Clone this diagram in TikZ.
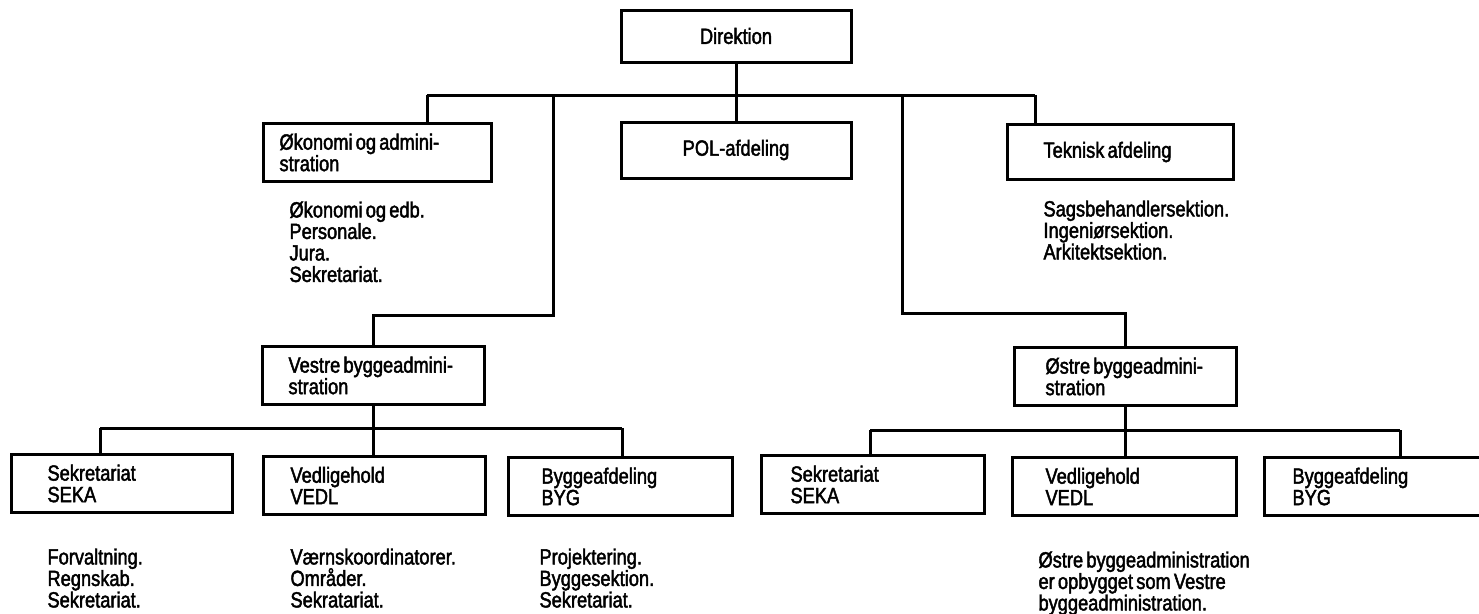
\documentclass[tikz,border=0pt]{standalone}
\usepackage{fontspec}
\setmainfont{Liberation Sans}[FakeStretch=0.83, FakeBold=2.0]
\usetikzlibrary{calc}
% text settings for boxes and lists
\newcommand\orgfont{\fontsize{22}{21.5}\selectfont\spaceskip=3.2pt plus 1pt minus 0.5pt\relax}
\newcommand\notefont{\fontsize{22}{18.5}\selectfont\spaceskip=3.2pt plus 1pt minus 0.5pt\relax}
% one line of box text: box width, left indent, text
\newcommand\bl[3]{\makebox[#1pt][l]{\hspace*{#2pt}#3}}
\begin{document}
\begin{tikzpicture}[x=1pt, y=-1pt,
  line width=3pt,
  txt/.style={font=\orgfont},
  orgbox/.style={draw, line width=3pt, anchor=north west, txt,
    minimum width=#1pt, inner xsep=0pt, align=left, minimum height=58pt},
  ctrbox/.style={draw, line width=3pt, anchor=center, txt,
    minimum width=#1pt, align=center},
  list/.style={anchor=north west, inner sep=0pt, align=left, txt},
  note/.style={anchor=north west, inner sep=0pt, align=left, font=\notefont},
  conn/.style={line width=3pt}]
\useasboundingbox (0,0) rectangle (1479,613);
\clip (0,0) rectangle (1479,613);

% top level
\node[ctrbox=230, minimum height=52pt] (dir) at (736,36) {Direktion};
\node[ctrbox=230, minimum height=56pt] (pol) at (736,150) {POL-afdeling};
\node[orgbox=228, minimum height=58pt] (oek) at (262,122)
  {\bl{228}{16}{Økonomi og admini-}\\\bl{228}{16}{stration}};
\node[orgbox=226, minimum height=55pt] (tek) at (1006,123)
  {\bl{226}{36}{Teknisk afdeling}};

\node[list] (oeklist) at (288,200) {Økonomi og edb.\\Personale.\\Jura.\\Sekretariat.};
\node[list] (teklist) at (1042,199) {Sagsbehandlersektion.\\Ingeniørsektion.\\Arkitektsektion.};

% building administrations
\node[orgbox=222] (vestre) at (261,345)
  {\bl{222}{26}{Vestre byggeadmini-}\\\bl{222}{26}{stration}};
\node[orgbox=222] (oestre) at (1013,346)
  {\bl{222}{31}{Østre byggeadmini-}\\\bl{222}{31}{stration}};

% sections, west
\node[orgbox=221] (sekL) at (10,453) {\bl{221}{36}{Sekretariat}\\\bl{221}{36}{SEKA}};
\node[orgbox=222] (vedL) at (262,455) {\bl{222}{27}{Vedligehold}\\\bl{222}{27}{VEDL}};
\node[orgbox=224] (bygL) at (507,456) {\bl{224}{33}{Byggeafdeling}\\\bl{224}{33}{BYG}};

% sections, east
\node[orgbox=223] (sekR) at (760,454) {\bl{223}{29}{Sekretariat}\\\bl{223}{29}{SEKA}};
\node[orgbox=224] (vedR) at (1011,456) {\bl{224}{33}{Vedligehold}\\\bl{224}{33}{VEDL}};
\node[orgbox=240] (bygR) at (1263,456) {\bl{240}{28}{Byggeafdeling}\\\bl{240}{28}{BYG}};

\node[list] (seklist) at (46,547) {Forvaltning.\\Regnskab.\\Sekretariat.};
\node[list] (vedlist) at (289,547) {Værnskoordinatorer.\\Områder.\\Sekratariat.};
\node[list] (byglist) at (538,547) {Projektering.\\Byggesektion.\\Sekretariat.};
\node[note] (oestrenote) at (1037,550) {Østre byggeadministration\\er opbygget som Vestre\\byggeadministration.};

% connectors: top bus
\coordinate (busL) at (427,95);
\coordinate (busR) at (1035,95);
\coordinate (vTop) at (553,95);
\coordinate (vBend) at (553,315);
\coordinate (oTop) at (902,95);
\coordinate (oBend) at (902,313);
\draw[conn] (busL) -- (busR);
\draw[conn] (dir.south) -- (pol.north);
\draw[conn] (busL) -- (busL |- oek.north);
\draw[conn] (busR) -- (busR |- tek.north);
\draw[conn] (vTop) -- (vBend) -| (vestre.north);
\draw[conn] (oTop) -- (oBend) -| (oestre.north);

% connectors: west sections
\coordinate (wa) at (100,428);
\coordinate (wc) at (622,428);
\draw[conn] (wa) -- (wc);
\draw[conn] (wa) -- (wa |- sekL.north);
\draw[conn] (wc) -- (wc |- bygL.north);
\draw[conn] (vestre.south) -- (vestre.south |- vedL.north);

% connectors: east sections
\coordinate (ea) at (870,430);
\coordinate (ec) at (1400,430);
\draw[conn] (ea) -- (ec);
\draw[conn] (ea) -- (ea |- sekR.north);
\draw[conn] (ec) -- (ec |- bygR.north);
\draw[conn] (oestre.south) -- (oestre.south |- vedR.north);
\end{tikzpicture}
\end{document}
